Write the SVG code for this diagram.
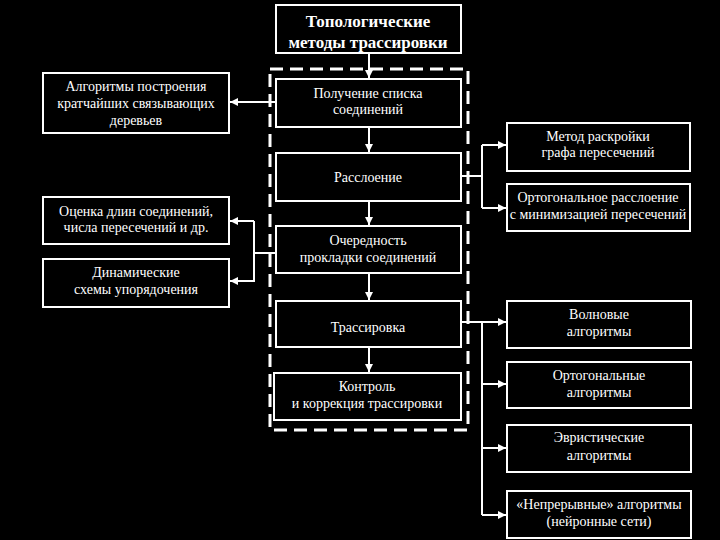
<svg xmlns="http://www.w3.org/2000/svg" width="720" height="540" viewBox="0 0 720 540">
<style>
.box{fill:#000;stroke:#fff;stroke-width:2}
.t{fill:#fff;font-family:"Liberation Serif","Times New Roman",serif;font-size:14px;text-anchor:middle}
.tb{fill:#fff;font-family:"Liberation Serif","Times New Roman",serif;font-size:17px;font-weight:bold;text-anchor:middle}
.c{fill:none;stroke:#fff;stroke-width:2}
</style>
<defs>
<marker id="ah" viewBox="0 0 8 8" refX="8" refY="4" markerWidth="8" markerHeight="8" markerUnits="userSpaceOnUse" orient="auto">
<path d="M0,0 L8,4 L0,8 Z" fill="#fff"/>
</marker>
</defs>
<rect width="720" height="540" fill="#000"/>
<rect x="270" y="69" width="198" height="361" fill="none" stroke="#fff" stroke-width="3" stroke-dasharray="13,7"/>
<g id="connectors">
<line class="c" x1="369" y1="53" x2="369" y2="78" marker-end="url(#ah)"/>
<line class="c" x1="369" y1="127" x2="369" y2="152" marker-end="url(#ah)"/>
<line class="c" x1="369" y1="201" x2="369" y2="225" marker-end="url(#ah)"/>
<line class="c" x1="369" y1="273" x2="369" y2="300" marker-end="url(#ah)"/>
<line class="c" x1="369" y1="347" x2="369" y2="372" marker-end="url(#ah)"/>
<line class="c" x1="276" y1="102" x2="230" y2="102" marker-end="url(#ah)"/>
<polyline class="c" points="276,253 254,253"/>
<polyline class="c" points="254,221 254,281 230,281" marker-end="url(#ah)"/>
<line class="c" x1="254" y1="221" x2="230" y2="221" marker-end="url(#ah)"/>
<polyline class="c" points="461,176 482,176"/>
<polyline class="c" points="482,145 482,208"/>
<line class="c" x1="482" y1="145" x2="506" y2="145" marker-end="url(#ah)"/>
<line class="c" x1="482" y1="208" x2="506" y2="208" marker-end="url(#ah)"/>
<polyline class="c" points="461,322 482,322 482,515"/>
<line class="c" x1="482" y1="322" x2="506" y2="322" marker-end="url(#ah)"/>
<line class="c" x1="482" y1="384" x2="506" y2="384" marker-end="url(#ah)"/>
<line class="c" x1="482" y1="448" x2="506" y2="448" marker-end="url(#ah)"/>
<line class="c" x1="482" y1="515" x2="506" y2="515" marker-end="url(#ah)"/>
</g>
<g id="title"><rect class="box" x="276" y="5" width="185" height="48"/><text class="tb" x="368" y="27">Топологические</text><text class="tb" x="368" y="48">методы трассировки</text></g>
<g id="n1"><rect class="box" x="276" y="79" width="185" height="48"/><text class="t" x="368" y="98">Получение списка</text><text class="t" x="368" y="114">соединений</text></g>
<g id="n2"><rect class="box" x="276" y="153" width="185" height="48"/><text class="t" x="368" y="182">Расслоение</text></g>
<g id="n3"><rect class="box" x="276" y="226" width="185" height="47"/><text class="t" x="368" y="245">Очередность</text><text class="t" x="368" y="262">прокладки соединений</text></g>
<g id="n4"><rect class="box" x="276" y="301" width="185" height="46"/><text class="t" x="368" y="332">Трассировка</text></g>
<g id="n5"><rect class="box" x="274" y="373" width="187" height="47"/><text class="t" x="367" y="391">Контроль</text><text class="t" x="367" y="408">и коррекция трассировки</text></g>
<g id="l1"><rect class="box" x="43" y="73" width="186" height="60"/><text class="t" x="136" y="91">Алгоритмы построения</text><text class="t" x="136" y="108">кратчайших связывающих</text><text class="t" x="136" y="125">деревьев</text></g>
<g id="l2"><rect class="box" x="43" y="197" width="186" height="47"/><text class="t" x="136" y="216">Оценка длин соединений,</text><text class="t" x="136" y="232">числа пересечений и др.</text></g>
<g id="l3"><rect class="box" x="43" y="259" width="186" height="48"/><text class="t" x="136" y="277">Динамические</text><text class="t" x="136" y="294">схемы упорядочения</text></g>
<g id="r1"><rect class="box" x="507" y="123" width="183" height="48"/><text class="t" x="598" y="141">Метод раскройки</text><text class="t" x="598" y="157">графа пересечений</text></g>
<g id="r2"><rect class="box" x="507" y="184" width="183" height="47"/><text class="t" x="598" y="202">Ортогональное расслоение</text><text class="t" x="598" y="219">с минимизацией пересечений</text></g>
<g id="r3"><rect class="box" x="507" y="301" width="184" height="47"/><text class="t" x="599" y="319">Волновые</text><text class="t" x="599" y="336">алгоритмы</text></g>
<g id="r4"><rect class="box" x="507" y="362" width="184" height="46"/><text class="t" x="599" y="380">Ортогональные</text><text class="t" x="599" y="397">алгоритмы</text></g>
<g id="r5"><rect class="box" x="507" y="425" width="184" height="47"/><text class="t" x="599" y="442">Эвристические</text><text class="t" x="599" y="460">алгоритмы</text></g>
<g id="r6"><rect class="box" x="507" y="491" width="184" height="47"/><text class="t" x="599" y="509">«Непрерывные» алгоритмы</text><text class="t" x="599" y="526">(нейронные сети)</text></g>
</svg>
